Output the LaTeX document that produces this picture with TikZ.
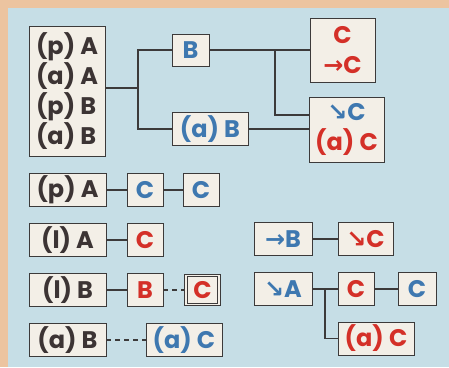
\documentclass[tikz,border=0pt]{standalone}
\usepackage{fontspec}
\setmainfont{Poppins}
\newfontfamily\arrfont{DejaVu Sans}
\usepackage{xcolor}
\usetikzlibrary{positioning}

\definecolor{peach}{RGB}{236,196,160}
\definecolor{sky}{RGB}{198,222,230}
\definecolor{boxfill}{RGB}{243,239,231}
\definecolor{boxline}{RGB}{60,58,58}
\definecolor{inkdark}{RGB}{60,52,52}
\definecolor{inkblue}{RGB}{62,120,176}
\definecolor{inkred}{RGB}{212,48,40}

\newcommand{\arright}{{\arrfont\bfseries →}}
\newcommand{\ardown}{{\arrfont\bfseries ↘}}

\begin{document}
\begin{tikzpicture}[x=1pt, y=-1pt,
    box/.style={draw=boxline, fill=boxfill, line width=0.9pt, minimum height=33pt,
                inner sep=1pt, font=\fontsize{24}{30}\selectfont\bfseries},
    dk/.style={text=inkdark}, bl/.style={text=inkblue}, rd/.style={text=inkred},
    link/.style={draw=boxline, line width=1.8pt},
    dashlink/.style={link, dash pattern=on 5pt off 4pt}]
    \fill[peach] (0,0) rectangle (449,367);
    \fill[sky] (8,8) rectangle (449,367);

    % top tree
    \node[box, dk, align=left, minimum width=76pt, minimum height=130pt] (all) at (67,91)
        {(p) A\\(a) A\\(p) B\\(a) B};
    \node[box, bl, minimum width=37pt, minimum height=32pt] (b) at (190.5,50) {B};
    \node[box, bl, minimum width=76pt] (ab) at (210,129) {(a) B};
    \node[box, rd, align=center, minimum width=65pt, minimum height=64pt] (cc) at (342.5,50)
        {C\\\arright C};
    \node[box, align=center, minimum width=75pt, minimum height=65pt] (dc) at (346.5,129.5)
        {\textcolor{inkblue}{\ardown C}\\\textcolor{inkred}{(a) C}};

    \coordinate (j1) at (138,88);
    \coordinate (j2) at (275,50);
    \draw[link] (all.east |- j1) -- (j1) |- (b.west);
    \draw[link] (j1) |- (ab.west);
    \draw[link] (b.east) -- (cc.west |- b.east);
    \draw[link] (j2) |- (dc.west |- 0,115);
    \draw[link] (ab.east) -- (dc.west |- ab.east);

    % left rows
    \node[box, dk, minimum width=77pt] (pa) at (67.5,190) {(p) A};
    \node[box, bl, minimum width=36pt] (pa1) at (145,190) {C};
    \node[box, bl, minimum width=36pt] (pa2) at (201,190) {C};
    \draw[link] (pa) -- (pa1) (pa1) -- (pa2);

    \node[box, dk, minimum width=77pt] (la) at (67.5,240) {(l) A};
    \node[box, rd, minimum width=36pt] (la1) at (145,240) {C};
    \draw[link] (la) -- (la1);

    \node[box, dk, minimum width=77pt] (lb) at (67.5,290) {(l) B};
    \node[box, rd, minimum width=36pt] (lb1) at (145,290) {B};
    \node[box, rd, minimum width=33pt, minimum height=29pt, outer sep=2pt,
          double=boxfill, double distance=1.6pt, draw=boxline, line width=0.8pt] (lb2) at (202.5,290) {C};
    \draw[link] (lb) -- (lb1);
    \draw[dashlink] (lb1) -- (lb2);

    \node[box, dk, minimum width=77pt] (ab2) at (67.5,340) {(a) B};
    \node[box, bl, minimum width=76pt] (ac) at (184,340) {(a) C};
    \draw[dashlink] (ab2) -- (ac);

    % right rows
    \node[box, bl, minimum width=58pt] (rb) at (283,239) {\arright B};
    \node[box, rd, minimum width=55pt] (rc) at (365.5,239) {\ardown C};
    \draw[link] (rb) -- (rc);

    \node[box, bl, minimum width=58pt] (da) at (283,289) {\ardown A};
    \node[box, rd, minimum width=36pt] (da1) at (356,289) {C};
    \node[box, bl, minimum width=38pt] (da2) at (417,289) {C};
    \node[box, rd, minimum width=76pt] (da3) at (376,338.5) {(a) C};
    \coordinate (j3) at (325,289);
    \draw[link] (da) -- (da1) (da1) -- (da2);
    \draw[link] (j3) |- (da3.west);
\end{tikzpicture}
\end{document}
